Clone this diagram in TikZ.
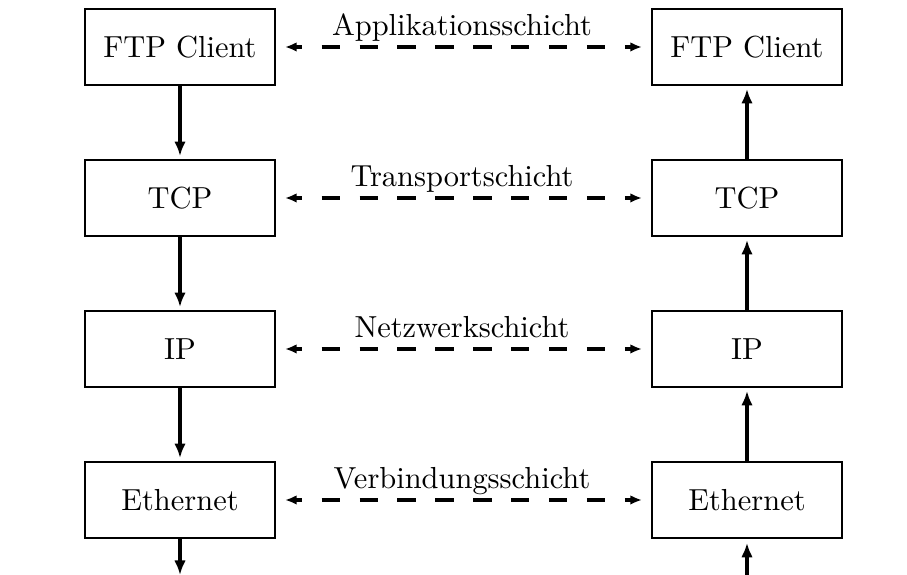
\documentclass[tikz,border=0pt]{standalone}
\usetikzlibrary{arrows.meta}
\begin{document}
\begin{tikzpicture}[x=0.345pt,y=-0.345pt,
  txt/.style={font=\fontsize{10.5}{12.6}\selectfont},
  layerbox/.style={txt,draw,line width=0.75pt,minimum width=65.5pt,minimum height=26.2pt,inner sep=0pt},
  flow/.style={line width=1.1pt,-{Latex[length=5pt,width=4pt]}},
  % dashed peer connection; each arrow head sits on the first/last dash
  peer/.style={line width=1.1pt,{Latex[length=4pt,width=3.3pt]}-{Latex[length=4pt,width=3.3pt]},
    dash pattern=on 6.3pt off 6.77pt,dash phase=4pt,shorten <=3.1pt,shorten >=3.1pt},
  lbl/.style={txt,anchor=base,inner sep=0pt}]
\useasboundingbox (0,0) rectangle (907,575);

% sending stack (left) and receiving stack (right)
\node[layerbox] (lftp) at (180,47)  {FTP Client};
\node[layerbox] (ltcp) at (180,198) {TCP};
\node[layerbox] (lip)  at (180,349) {IP};
\node[layerbox] (leth) at (180,500) {Ethernet};
\node[layerbox] (rftp) at (747,47)  {FTP Client};
\node[layerbox] (rtcp) at (747,198) {TCP};
\node[layerbox] (rip)  at (747,349) {IP};
\node[layerbox] (reth) at (747,500) {Ethernet};

\coordinate (lout) at (180,575);
\coordinate (rin)  at (747,575);

% data flow down the left stack and up the right stack
\draw[flow,shorten >=1pt] (lftp.south) -- (ltcp.north);
\draw[flow,shorten >=1pt] (ltcp.south) -- (lip.north);
\draw[flow,shorten >=1pt] (lip.south) -- (leth.north);
\draw[flow] (leth.south) -- (lout);
\draw[flow,shorten >=1pt] (rtcp.north) -- (rftp.south);
\draw[flow,shorten >=1pt] (rip.north) -- (rtcp.south);
\draw[flow,shorten >=1pt] (reth.north) -- (rip.south);
\draw[flow,shorten >=1.3pt] (rin) -- (reth.south);

% logical peer connections between equal layers
\draw[peer] (lftp.east) -- (rftp.west);
\draw[peer] (ltcp.east) -- (rtcp.west);
\draw[peer] (lip.east) -- (rip.west);
\draw[peer] (leth.east) -- (reth.west);

\node[lbl] (l1) at (462,36)  {Applikationsschicht};
\node[lbl] (l2) at (462,187) {Transportschicht};
\node[lbl] (l3) at (462,338) {Netzwerkschicht};
\node[lbl] (l4) at (462,489) {Verbindungsschicht};
\end{tikzpicture}
\end{document}
